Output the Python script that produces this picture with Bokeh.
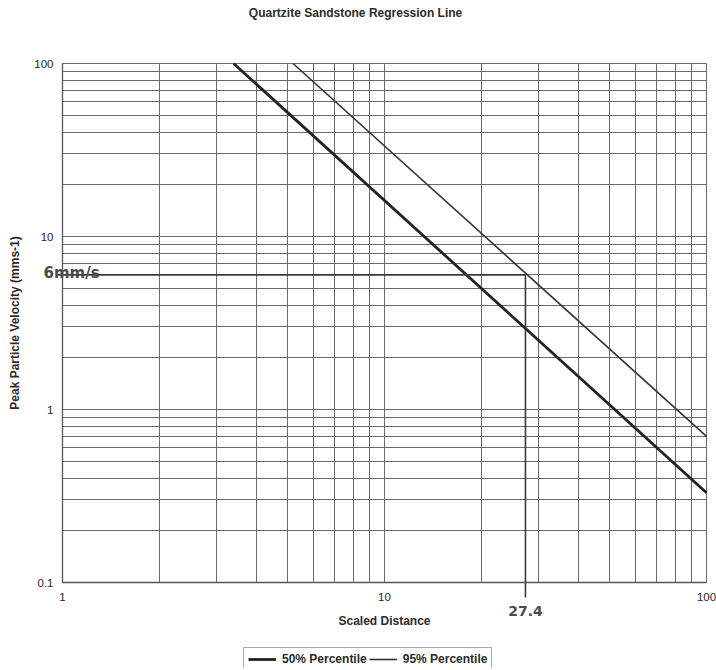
import math
from bokeh.plotting import figure
from bokeh.models import (FixedTicker, CustomJSTickFormatter, Label, Legend,
                          LegendItem, Range1d)
from bokeh.embed import file_html
from bokeh.resources import INLINE

# ---- data -------------------------------------------------------------
TITLE = "Quartzite Sandstone Regression Line"
X_LABEL = "Scaled Distance"
Y_LABEL = "Peak Particle Velocity (mms-1)"

X_MAJOR = [1, 10, 100]
X_MINOR = [2, 3, 4, 5, 6, 7, 8, 9, 20, 30, 40, 50, 60, 70, 80, 90]
Y_MAJOR = [0.1, 1, 10, 100]
Y_MINOR = [0.2, 0.3, 0.4, 0.5, 0.6, 0.7, 0.8, 0.9,
           2, 3, 4, 5, 6, 7, 8, 9, 20, 30, 40, 50, 60, 70, 80, 90]

P50_X = [3.4, 100]      # 50% percentile regression line
P50_Y = [100, 0.33]
P95_X = [5.2, 100]      # 95% percentile regression line
P95_Y = [100, 0.70]

LIMIT_PPV = 6           # mm/s
LIMIT_SD = 27.4         # scaled distance at the limit (95% line)
LIMIT_PPV_LABEL = "6mm/s"
LIMIT_SD_LABEL = "27.4"

# ---- layout (pixels) ------------------------------------------------------
W, H = 716, 668
FX0, FX1 = 62, 706      # plot area left/right (x = 1 .. 100)
FY0, FY1 = 63, 582      # plot area top/bottom (y = 100 .. 0.1)
x_dec = (FX1 - FX0) / 2.0
y_dec = (FY1 - FY0) / 3.0
x_lo = 10 ** (0 - FX0 / x_dec)
x_hi = 10 ** (2 + (W - FX1) / x_dec)
y_hi = 10 ** (2 + FY0 / y_dec)
y_lo = 10 ** (-1 - (H - FY1) / y_dec)

FONT = "Liberation Sans"
TXT = "#2b2b2b"
GRID = "#6a6a6a"
INK = "#3a3a3a"

p = figure(width=W, height=H, x_axis_type="log", y_axis_type="log",
           x_range=Range1d(x_lo, x_hi), y_range=Range1d(y_lo, y_hi),
           output_backend="svg", toolbar_location=None,
           min_border_left=0, min_border_right=0,
           min_border_top=0, min_border_bottom=0)
p.background_fill_color = "white"
p.border_fill_color = "white"
p.outline_line_color = None

fmt = CustomJSTickFormatter(code="return String(tick)")
p.xaxis.ticker = FixedTicker(ticks=X_MAJOR, minor_ticks=X_MINOR)
p.yaxis.ticker = FixedTicker(ticks=Y_MAJOR, minor_ticks=Y_MINOR)
p.xaxis.fixed_location = Y_MAJOR[0]
p.yaxis.fixed_location = X_MAJOR[0]
p.xaxis.bounds = (X_MAJOR[0], X_MAJOR[-1])
p.yaxis.bounds = (Y_MAJOR[0], Y_MAJOR[-1])
for ax in (p.xaxis[0], p.yaxis[0]):
    ax.formatter = fmt
    ax.major_tick_out = 0
    ax.major_tick_in = 0
    ax.minor_tick_out = 0
    ax.minor_tick_in = 0
    ax.axis_line_color = "#555555"
    ax.axis_line_width = 1.3
    ax.major_label_text_font = FONT
    ax.major_label_text_font_size = "11.5px"
    ax.major_label_text_color = "#262626"
    ax.axis_label_text_font = FONT
    ax.axis_label_text_font_size = "12px"
    ax.axis_label_text_font_style = "bold"
    ax.axis_label_text_color = TXT
p.xaxis.axis_label = X_LABEL
p.yaxis.axis_label = Y_LABEL
p.xaxis.major_label_standoff = 10
p.xaxis.axis_label_standoff = 10
p.yaxis.major_label_standoff = 9
p.yaxis.axis_label_standoff = 9

p.xgrid.cross_bounds = (Y_MAJOR[0], Y_MAJOR[-1])
p.ygrid.cross_bounds = (X_MAJOR[0], X_MAJOR[-1])
for g in (p.xgrid[0], p.ygrid[0]):
    g.grid_line_color = GRID
    g.grid_line_width = 1
    g.minor_grid_line_color = GRID
    g.minor_grid_line_width = 1

# ---- title ---------------------------------------------------------------
p.add_layout(Label(x=8.13, y=197, text=TITLE, text_font=FONT,
                   text_font_size="12px", text_font_style="bold",
                   text_color=TXT, text_align="center",
                   text_baseline="middle"))

# ---- regression lines ----------------------------------------------------
r50 = p.line(P50_X, P50_Y, line_color="#222222", line_width=2.8)
r95 = p.line(P95_X, P95_Y, line_color="#333333", line_width=1.6)

# ---- 6 mm/s limit construction -------------------------------------------
p.segment(x0=[0.965], y0=[LIMIT_PPV], x1=[LIMIT_SD], y1=[LIMIT_PPV],
          line_color=INK, line_width=1.6)
p.segment(x0=[LIMIT_SD], y0=[LIMIT_PPV], x1=[LIMIT_SD], y1=[0.082],
          line_color=INK, line_width=1.6)

p.add_layout(Label(x=0.873, y=6.15, text=LIMIT_PPV_LABEL,
                   text_font="DejaVu Sans", text_font_size="15px",
                   text_font_style="bold", text_color="#4a4a4a",
                   text_align="left", text_baseline="alphabetic"))
p.add_layout(Label(x=LIMIT_SD, y=0.068, text=LIMIT_SD_LABEL,
                   text_font="DejaVu Sans", text_font_size="14px",
                   text_font_style="bold", text_color="#4a4a4a",
                   text_align="center", text_baseline="middle"))

# ---- legend ----------------------------------------------------------------
legend = Legend(items=[LegendItem(label="50% Percentile", renderers=[r50]),
                       LegendItem(label="95% Percentile", renderers=[r95])],
                orientation="horizontal", location=(243, -3),
                label_text_font=FONT, label_text_font_size="12px",
                label_text_font_style="bold", label_text_color=TXT,
                glyph_width=28, glyph_height=12, label_standoff=6,
                spacing=2, padding=4, margin=0,
                border_line_color="#555555", border_line_width=1,
                background_fill_color="white", background_fill_alpha=1)
p.add_layout(legend, "center")

open("out.html", "w").write(file_html(p, INLINE))
